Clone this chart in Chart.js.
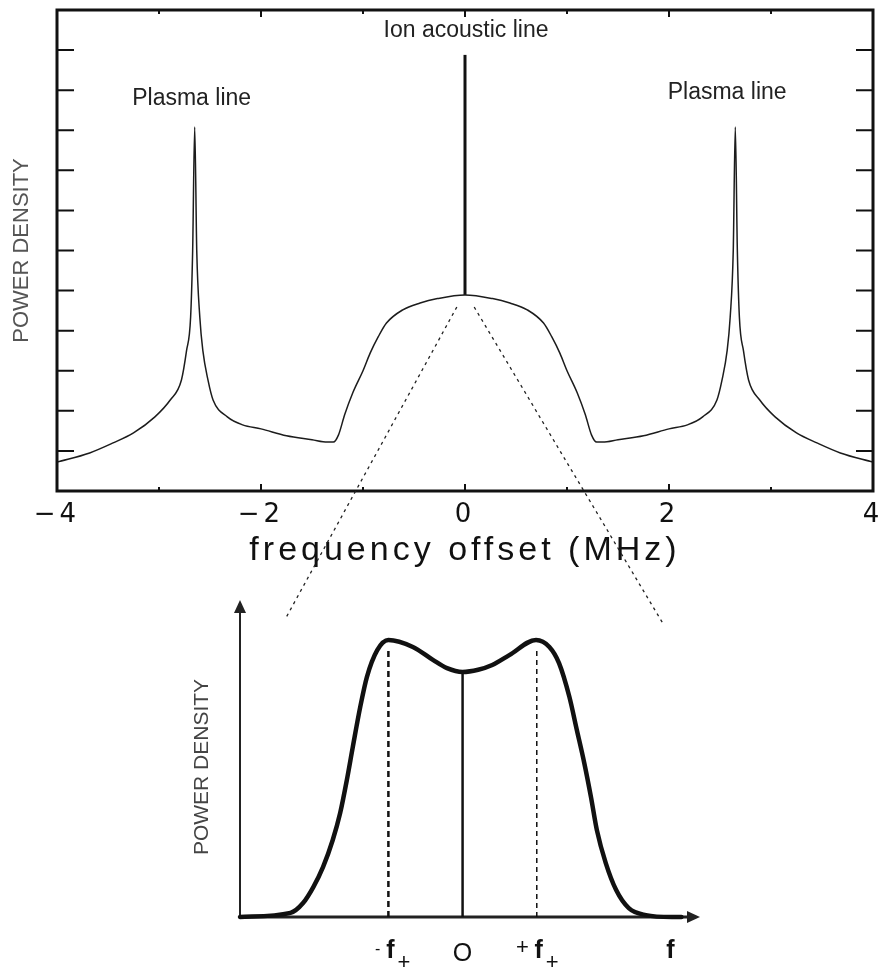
<!DOCTYPE html>
<html>
<head>
<meta charset="utf-8">
<script src="https://cdn.jsdelivr.net/npm/chart.js@4.4.1/dist/chart.umd.min.js"></script>
<style>
  html, body { margin: 0; padding: 0; background: #fff; }
  #wrap { position: relative; width: 882px; height: 969px; }
  #wrap canvas { position: absolute; left: 0; }
  #spectrum { top: 0; }
  #zoomed { top: 580px; }
  #overlay { top: 0; pointer-events: none; }
</style>
</head>
<body>
<div id="wrap">
  <canvas id="spectrum" width="882" height="580"></canvas>
  <canvas id="zoomed" width="882" height="389"></canvas>
  <canvas id="overlay" width="882" height="969"></canvas>
</div>
<script>
/* ==========================
   DATA - full spectrum (top)
========================== */
const freqOffset = [
  -4.00, -3.68, -3.45, -3.25, -3.04, -2.89, -2.78, -2.73, -2.69, -2.67, -2.65, -2.63, -2.60, -2.57, -2.52,
  -2.47, -2.33, -2.18, -2.00, -1.75, -1.50, -1.35, -1.29, -1.24, -1.18, -1.10, -1.00, -0.93, -0.85, -0.77,
  -0.61, -0.44, -0.27, 0.00,
  0.27, 0.44, 0.61, 0.77, 0.85, 0.93, 1.00, 1.10, 1.18, 1.24, 1.29, 1.35, 1.50, 1.75, 2.00,
  2.18, 2.33, 2.47, 2.52, 2.57, 2.60, 2.63, 2.65, 2.67, 2.69, 2.73, 2.78, 2.89, 3.04, 3.25, 3.45, 3.68, 4.00
];
const powerDensity = [
  0.72, 0.95, 1.20, 1.45, 1.85, 2.27, 2.77, 3.50, 4.34, 6.00, 9.08, 6.00, 4.34, 3.50, 2.77,
  2.27, 1.85, 1.65, 1.55, 1.38, 1.28, 1.22, 1.22, 1.40, 1.90, 2.45, 3.00, 3.44, 3.85, 4.19,
  4.52, 4.69, 4.80, 4.89,
  4.80, 4.69, 4.52, 4.19, 3.85, 3.44, 3.00, 2.45, 1.90, 1.40, 1.22, 1.22, 1.28, 1.38, 1.55,
  1.65, 1.85, 2.27, 2.77, 3.50, 4.34, 6.00, 9.08, 6.00, 4.34, 3.50, 2.77, 2.27, 1.85, 1.45, 1.20, 0.95, 0.72
];
const ionLineX = [0, 0];
const ionLineY = [4.89, 10.88];

const xMajorTicks = [-2, 0, 2];
const xMinorTicks = [-3, -1, 1, 3];
const yTicks = [1, 2, 3, 4, 5, 6, 7, 8, 9, 10, 11];

const noteText = ["Plasma line", "Ion acoustic line", "Plasma line"];
const noteX = [-2.68, 0.01, 2.57];
const noteY = [9.80, 11.49, 9.94];

/* ==========================
   DATA - zoomed ion line (bottom)
========================== */
const fZoom = [
  -3.00, -2.32, -2.15, -2.01, -1.88, -1.75, -1.65, -1.56, -1.48, -1.38, -1.29, -1.15, -1.00,
  -0.67, -0.40, -0.21, 0.00, 0.21, 0.40, 0.63, 0.99, 1.17, 1.30, 1.44, 1.54, 1.64, 1.73,
  1.81, 1.93, 2.07, 2.24, 2.47, 2.82, 2.95
];
const pdZoom = [
  0.000, 0.013, 0.044, 0.095, 0.158, 0.243, 0.328, 0.432, 0.536, 0.662, 0.757, 0.842, 0.874,
  0.852, 0.811, 0.785, 0.773, 0.780, 0.795, 0.826, 0.874, 0.852, 0.801, 0.694, 0.590, 0.486, 0.379,
  0.274, 0.170, 0.085, 0.028, 0.006, 0.000, 0.000
];
const markerX = [-1, 0, 1];
const markerTop = [0.85, 0.773, 0.85];

const fTickValues = [-1, 0, 1, 2.8];
const fTickMain = ["f", "O", "f", "f"];
const fTickPre = ["-", "", "+", ""];
const fTickSub = ["+", "", "+", ""];

/* zoom guide lines: top chart start -> bottom chart end */
const guideFromX = [-0.08, 0.09];
const guideFromY = [4.59, 4.59];
const guideToX = [-2.39, 2.69];
const guideToY = [0.94, 0.93];

const pairs = (xs, ys) => xs.map((x, i) => ({ x: x, y: ys[i] }));

/* ==========================
   TOP FRAME PLUGIN
========================== */
const spectrumFrame = {
  id: "spectrumFrame",
  beforeDraw(chart) {
    chart.ctx.letterSpacing = "4px";
  },
  afterDraw(chart) {
    const { ctx, chartArea: a, scales: { x, y } } = chart;
    ctx.save();
    ctx.letterSpacing = "0px";
    ctx.strokeStyle = "#111";

    ctx.lineWidth = 2;
    ctx.beginPath();
    xMajorTicks.forEach(v => {
      const px = x.getPixelForValue(v);
      ctx.moveTo(px, a.bottom); ctx.lineTo(px, a.bottom - 7);
      ctx.moveTo(px, a.top); ctx.lineTo(px, a.top + 7);
    });
    xMinorTicks.forEach(v => {
      const px = x.getPixelForValue(v);
      ctx.moveTo(px, a.bottom); ctx.lineTo(px, a.bottom - 4);
      ctx.moveTo(px, a.top); ctx.lineTo(px, a.top + 4);
    });
    yTicks.forEach(v => {
      const py = y.getPixelForValue(v);
      ctx.moveTo(a.left, py); ctx.lineTo(a.left + 17, py);
      ctx.moveTo(a.right, py); ctx.lineTo(a.right - 17, py);
    });
    ctx.stroke();

    ctx.lineWidth = 3;
    ctx.strokeRect(a.left, a.top, a.right - a.left, a.bottom - a.top);

    /* notes */
    ctx.fillStyle = "#222";
    ctx.font = "23px 'Liberation Sans', Arial, sans-serif";
    ctx.textAlign = "center";
    ctx.textBaseline = "middle";
    noteText.forEach((t, i) => {
      ctx.fillText(t, x.getPixelForValue(noteX[i]), y.getPixelForValue(noteY[i]));
    });

    /* y title */
    ctx.fillStyle = "#555";
    ctx.font = "22px 'Liberation Sans', Arial, sans-serif";
    ctx.translate(a.left - 35, (a.top + a.bottom) / 2);
    ctx.rotate(-Math.PI / 2);
    ctx.fillText("POWER DENSITY", 0, 0);
    ctx.restore();
  }
};

const spectrumChart = new Chart(document.getElementById("spectrum"), {
  type: "line",
  data: {
    datasets: [
      {
        data: pairs(freqOffset, powerDensity),
        borderColor: "#1c1c1c",
        borderWidth: 1.5,
        pointRadius: 0,
        cubicInterpolationMode: "monotone",
        fill: false
      },
      {
        data: pairs(ionLineX, ionLineY),
        borderColor: "#111",
        borderWidth: 3,
        pointRadius: 0,
        fill: false
      }
    ]
  },
  options: {
    responsive: false,
    animation: false,
    devicePixelRatio: 1,
    layout: { padding: { left: 57, right: 9, top: 10, bottom: 0 } },
    plugins: { legend: { display: false }, tooltip: { enabled: false } },
    scales: {
      x: {
        type: "linear",
        min: -4,
        max: 4,
        grid: { display: false, drawTicks: false },
        border: { display: false },
        ticks: {
          stepSize: 1,
          autoSkip: false,
          maxRotation: 0,
          padding: 9,
          color: "#111",
          font: { family: "DejaVu Sans", size: 26 },
          callback: v => (v % 2 === 0 ? (v < 0 ? "\u2212" + Math.abs(v) : String(v)) : "")
        },
        title: {
          display: true,
          text: "frequency offset (MHz)",
          color: "#111",
          font: { family: "Liberation Sans", size: 34 },
          padding: { top: 0, bottom: 9 }
        },
        afterFit: s => { s.height = 89; s.paddingLeft = 0; s.paddingRight = 0; }
      },
      y: { display: false, min: 0, max: 12 }
    }
  },
  plugins: [spectrumFrame]
});

/* ==========================
   BOTTOM AXES PLUGIN
========================== */
const zoomAxes = {
  id: "zoomAxes",
  beforeDatasetsDraw(chart) {
    const { ctx, chartArea: a } = chart;
    ctx.save();
    ctx.strokeStyle = "#222";
    ctx.fillStyle = "#222";
    ctx.lineWidth = 2;
    ctx.beginPath();
    ctx.moveTo(a.left, a.bottom); ctx.lineTo(a.left, a.top + 10);
    ctx.stroke();
    ctx.lineWidth = 3;
    ctx.beginPath();
    ctx.moveTo(a.left, a.bottom); ctx.lineTo(a.right - 10, a.bottom);
    ctx.stroke();
    ctx.beginPath();
    ctx.moveTo(a.left, a.top); ctx.lineTo(a.left - 6, a.top + 13); ctx.lineTo(a.left + 6, a.top + 13);
    ctx.closePath(); ctx.fill();
    ctx.beginPath();
    ctx.moveTo(a.right, a.bottom); ctx.lineTo(a.right - 13, a.bottom - 6); ctx.lineTo(a.right - 13, a.bottom + 6);
    ctx.closePath(); ctx.fill();
    ctx.restore();
  },
  afterDraw(chart) {
    const { ctx, chartArea: a, scales: { x } } = chart;
    ctx.save();
    ctx.fillStyle = "#111";
    ctx.textBaseline = "alphabetic";
    const base = a.bottom + 41;
    fTickValues.forEach((v, i) => {
      const px = x.getPixelForValue(v) + (fTickSub[i] ? 2 : 0);
      ctx.textAlign = "center";
      ctx.font = (fTickMain[i] === "f" ? "bold 25px" : "25px") + " 'Liberation Sans', Arial, sans-serif";
      ctx.fillText(fTickMain[i], px, base + (fTickMain[i] === "O" ? 3 : 0));
      if (fTickPre[i]) {
        ctx.font = (fTickPre[i] === "+" ? "22px" : "16px") + " 'Liberation Sans', Arial, sans-serif";
        ctx.textAlign = "right";
        ctx.fillText(fTickPre[i], px - 10, base - 4);
      }
      if (fTickSub[i]) {
        ctx.font = "22px 'Liberation Sans', Arial, sans-serif";
        ctx.textAlign = "left";
        ctx.fillText(fTickSub[i], px + 7, base + 11);
      }
    });

    ctx.fillStyle = "#444";
    ctx.font = "21px 'Liberation Sans', Arial, sans-serif";
    ctx.textAlign = "center";
    ctx.textBaseline = "middle";
    ctx.translate(a.left - 38, a.top + 167);
    ctx.rotate(-Math.PI / 2);
    ctx.fillText("POWER DENSITY", 0, 0);
    ctx.restore();
  }
};

const zoomChart = new Chart(document.getElementById("zoomed"), {
  type: "line",
  data: {
    datasets: [
      {
        data: pairs(fZoom, pdZoom),
        borderColor: "#111",
        borderWidth: 4.5,
        pointRadius: 0,
        cubicInterpolationMode: "monotone",
        borderCapStyle: "round",
        borderJoinStyle: "round",
        clip: false,
        fill: false
      },
      {
        data: pairs([markerX[0], markerX[0]], [0, markerTop[0]]),
        borderColor: "#111", borderWidth: 2.5, borderDash: [6, 4], pointRadius: 0, fill: false
      },
      {
        data: pairs([markerX[1], markerX[1]], [0, markerTop[1]]),
        borderColor: "#111", borderWidth: 2.5, pointRadius: 0, fill: false
      },
      {
        data: pairs([markerX[2], markerX[2]], [0, markerTop[2]]),
        borderColor: "#111", borderWidth: 1.5, borderDash: [5, 4], pointRadius: 0, fill: false
      }
    ]
  },
  options: {
    responsive: false,
    animation: false,
    devicePixelRatio: 1,
    layout: { padding: { left: 240, right: 182, top: 20, bottom: 52 } },
    plugins: { legend: { display: false }, tooltip: { enabled: false } },
    scales: {
      x: { type: "linear", display: false, min: -3, max: 3.2 },
      y: { display: false, min: 0, max: 1 }
    }
  },
  plugins: [zoomAxes]
});

/* ==========================
   ZOOM GUIDE LINES
========================== */
function drawGuides() {
  const ov = document.getElementById("overlay").getContext("2d");
  const topOff = document.getElementById("spectrum").offsetTop;
  const botOff = document.getElementById("zoomed").offsetTop;
  ov.strokeStyle = "#222";
  ov.lineWidth = 1.3;
  ov.setLineDash([3, 4]);
  guideFromX.forEach((gx, i) => {
    ov.beginPath();
    ov.moveTo(spectrumChart.scales.x.getPixelForValue(gx), topOff + spectrumChart.scales.y.getPixelForValue(guideFromY[i]));
    ov.lineTo(zoomChart.scales.x.getPixelForValue(guideToX[i]), botOff + zoomChart.scales.y.getPixelForValue(guideToY[i]));
    ov.stroke();
  });
}
drawGuides();
</script>
</body>
</html>
